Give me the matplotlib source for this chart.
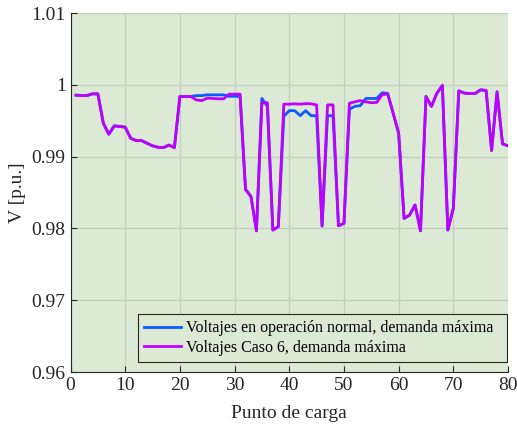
import matplotlib
matplotlib.use("Agg")
import matplotlib.pyplot as plt

x = list(range(1, 81))

v_case6 = [0.99856, 0.99851, 0.9985, 0.99874, 0.99874, 0.99465, 0.99312, 0.99428, 0.9942, 0.9941,
           0.99256, 0.99223, 0.99223, 0.99186, 0.9915, 0.9913, 0.99126, 0.9916, 0.99126, 0.99837,
           0.99837, 0.99837, 0.9979, 0.9978, 0.99814, 0.9981, 0.99805, 0.99805, 0.9987, 0.9987,
           0.9987, 0.98544, 0.98442, 0.97967, 0.9975, 0.9975, 0.97977, 0.98023, 0.9973, 0.9973,
           0.99735, 0.9973, 0.99738, 0.99735, 0.9972, 0.98033, 0.9972, 0.9972, 0.98037, 0.9807,
           0.99744, 0.99763, 0.9978, 0.99763, 0.9975, 0.99755, 0.99865, 0.99872, 0.99605, 0.99326,
           0.9814, 0.98186, 0.98326, 0.97967, 0.99837, 0.997, 0.99884, 0.9999, 0.97977, 0.9828,
           0.99916, 0.99884, 0.9988, 0.9988, 0.9993, 0.9992, 0.99084, 0.99902, 0.99177, 0.9915]

v_normal = [0.99856, 0.99851, 0.9985, 0.99874, 0.99874, 0.99465, 0.99312, 0.99428, 0.9942, 0.9941,
            0.99256, 0.99223, 0.99223, 0.99186, 0.9915, 0.9913, 0.99126, 0.9916, 0.99126, 0.99837,
            0.99837, 0.99837, 0.9985, 0.9985, 0.9986, 0.9986, 0.9986, 0.9986, 0.9984, 0.9984,
            0.9984, 0.98544, 0.98442, 0.97967, 0.9981, 0.9970, 0.97977, 0.98023, 0.9956, 0.9964,
            0.9964, 0.9957, 0.9964, 0.9957, 0.9957, 0.98033, 0.9957, 0.9957, 0.98037, 0.9807,
            0.9966, 0.9970, 0.9971, 0.9981, 0.9981, 0.9981, 0.9989, 0.9988, 0.99605, 0.99326,
            0.9814, 0.98186, 0.98326, 0.97967, 0.99837, 0.997, 0.99884, 0.9999, 0.97977, 0.9828,
            0.99916, 0.99884, 0.9988, 0.9988, 0.9993, 0.9992, 0.99084, 0.99902, 0.99177, 0.9915]

label_normal = "Voltajes en operación normal, demanda máxima"
label_case6 = "Voltajes Caso 6, demanda máxima"
xticks = [0, 10, 20, 30, 40, 50, 60, 70, 80]
yticks = [0.96, 0.97, 0.98, 0.99, 1.0, 1.01]
ytick_labels = ["0.96", "0.97", "0.98", "0.99", "1", "1.01"]

plt.rcParams['font.family'] = ['Liberation Serif', 'DejaVu Serif']

fig = plt.figure(figsize=(5.17, 4.25), dpi=100)
ax = fig.add_axes([0.1364, 0.1247, 0.8462, 0.8447])
bg = '#dce9d4'
ax.set_facecolor(bg)

ax.plot(x, v_normal, color='#0a5cff', lw=2.0, label=label_normal + "  ", zorder=3)
ax.plot(x, v_case6, color='#c000ff', lw=2.0, label=label_case6, zorder=4)

ax.set_xlim(0, 80)
ax.set_ylim(0.96, 1.01)
ax.set_xticks(xticks)
ax.set_yticks(yticks)
ax.set_yticklabels(ytick_labels)
ax.tick_params(direction='in', labelsize=14, color='#262626', length=4, labelcolor='#262626')
ax.grid(True, color='#c2d0bc', lw=0.9)
ax.set_axisbelow(True)
for s in ['top', 'right']:
    ax.spines[s].set_visible(False)
for s in ['left', 'bottom']:
    ax.spines[s].set_color('#262626')
    ax.spines[s].set_linewidth(0.8)

ax.set_xlabel('Punto de carga', fontsize=14, color='#262626', labelpad=8)
ax.set_ylabel('V [p.u.]', fontsize=14, color='#262626', labelpad=4)

leg = ax.legend(loc='lower right', fontsize=11.5, frameon=True, fancybox=False,
                handlelength=2.3, handletextpad=0.3, borderpad=0.4, labelspacing=0.2,
                borderaxespad=0.0, bbox_to_anchor=(0.9985, 0.028))
leg.get_frame().set_facecolor(bg)
leg.get_frame().set_edgecolor('#262626')
leg.get_frame().set_alpha(1.0)
leg.get_frame().set_linewidth(0.8)

fig.savefig('out.png', dpi=100)
